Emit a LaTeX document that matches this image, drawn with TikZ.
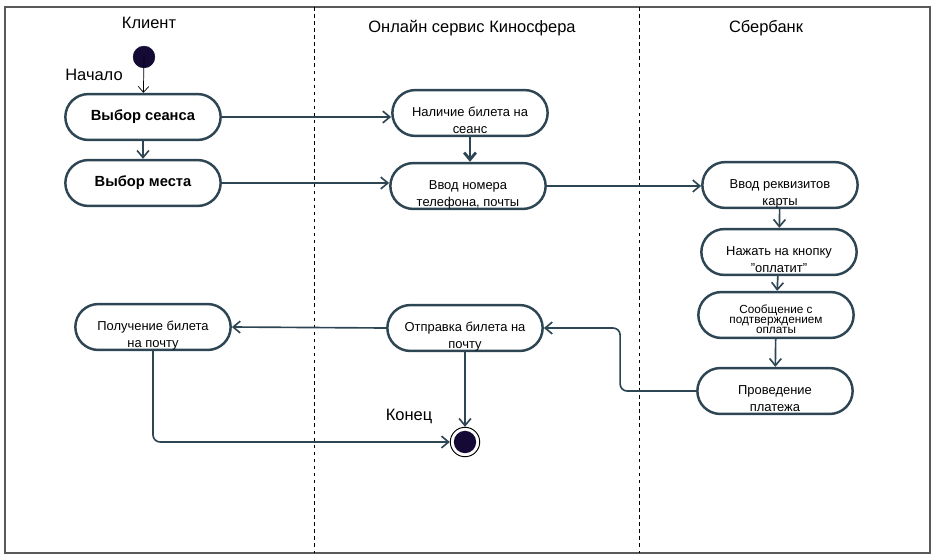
\documentclass[tikz,border=0pt]{standalone}
\usepackage{fontspec}
\setmainfont{Liberation Sans}
\usetikzlibrary{arrows.meta}
\definecolor{slate}{HTML}{2E4654}
\definecolor{ink}{HTML}{150A35}

\begin{document}
\begin{tikzpicture}[x=0.85pt,y=-0.85pt,
    bigact/.style={draw=slate,line width=2.1pt,rectangle,rounded corners=19.5pt,
        minimum width=132pt,minimum height=39pt,inner sep=1pt,
        font=\fontsize{12.5}{15}\selectfont\bfseries},
    act/.style={bigact,inner ysep=0pt,text height=36.5pt,text depth=2.5pt,
        align=center,font=\fontsize{11}{14}\selectfont},
    flow/.style={draw=slate,line width=1.4pt,-{Straight Barb[length=6pt,width=10pt]}},
    lane/.style={font=\fontsize{14}{16}\selectfont}]
    \useasboundingbox (0,0) rectangle (937,556);
    \draw[gray!70!black,line width=1.3pt] (5,7) rectangle (930,553);
    \draw[dashed] (314,7) -- (314,553);
    \draw[dashed] (639,7) -- (639,553);
    \path (149,23) node[lane] (klient) {Клиент};
    \path (472,28) node[lane] (servis) {Онлайн сервис Киносфера};
    \path (766,28) node[lane] (sber) {Сбербанк};
    \path (144,57) node[draw=ink,fill=ink,circle,minimum size=18.5pt,inner sep=0] (start) {};
    \path (94,75) node[lane] (nachalo) {Начало};
    \path (143,117) node[bigact] (seans) {Выбор сеанса};
    \path (143,183) node[bigact] (mesto) {Выбор места};
    \path (470,113) node[act] (nal) {Наличие билета на\\сеанс};
    \path (468,186) node[act] (vvod) {Ввод номера\\телефона, почты};
    \path (780,185) node[act] (rekv) {Ввод реквизитов\\карты};
    \path (779,252) node[act] (knop) {Нажать на кнопку\\\symbol{34}оплатит\symbol{34}};
    \path (776,315) node[act,font=\fontsize{10}{8.5}\selectfont,text height=35.5pt,text depth=3.5pt] (soob) {Сообщение с\\подтверждением\\оплаты};
    \path (775,391) node[act] (prov) {Проведение\\платежа};
    \path (153,327) node[act] (poluch) {Получение билета\\на почту};
    \path (465,328) node[act] (otpr) {Отправка билета на\\почту};
    \path (465,442) node[draw,circle,fill=white,minimum size=25pt,line width=0.8pt,inner sep=0] (finish) {};
    \fill[ink] (finish) circle (9.5pt);
    \path (409,416) node[lane] (konec) {Конец};
    \draw[line width=0.6pt,-{Straight Barb[length=5pt,width=9pt]}] (start.center) -- (seans);
    \draw[flow] (seans) -- (mesto);
    \draw[flow] (seans.east) -- (seans.east -| nal.west);
    \draw[flow] (mesto.east) -- (mesto.east -| vvod.west);
    \draw[flow,line width=2.4pt] (nal) -- (nal |- vvod.north);
    \draw[flow] (vvod.east) -- (vvod.east -| rekv.west);
    \draw[flow] (rekv) -- (knop);
    \draw[flow] (knop) -- (soob);
    \draw[flow] (soob) -- (prov);
    \draw[flow,rounded corners=6pt] (prov.west) -- ++(-76,0) |- (otpr.east);
    \draw[flow] (otpr.west) -- (poluch.east);
    \draw[flow] (otpr) -- (finish);
    \draw[flow,rounded corners=6pt] (poluch.south) |- (finish.west);
\end{tikzpicture}
\end{document}
